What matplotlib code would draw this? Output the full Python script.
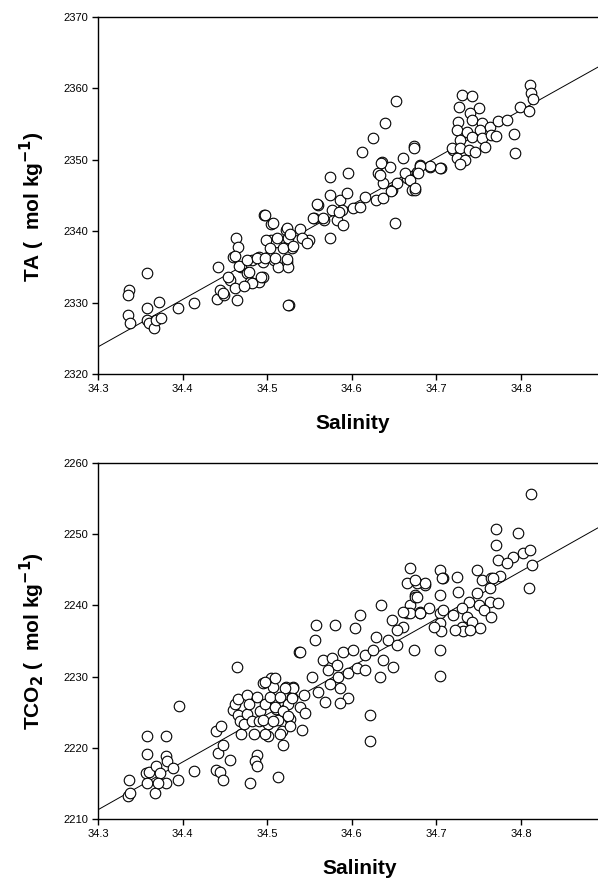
import matplotlib
matplotlib.use("Agg")
import matplotlib.pyplot as plt
import numpy as np

plt.rcParams['font.family'] = ['Liberation Sans', 'DejaVu Sans']

# ---------------- Top panel: TA vs Salinity ----------------
sal_ta = [
    34.337, 34.335, 34.335, 34.338, 34.358, 34.358, 34.358, 34.360, 34.366, 34.369, 34.375, 34.372, 34.394, 34.413,
    34.442, 34.441, 34.444, 34.449, 34.456, 34.460, 34.463, 34.465, 34.462, 34.464, 34.469, 34.476, 34.480, 34.482,
    34.490, 34.495, 34.490, 34.495, 34.496, 34.505, 34.504, 34.510, 34.508, 34.513, 34.522, 34.525, 34.523, 34.525,
    34.529, 34.526, 34.462, 34.467, 34.476, 34.478, 34.488, 34.482, 34.472, 34.454, 34.448,
    34.625, 34.612, 34.673, 34.574, 34.596, 34.636, 34.645, 34.661, 34.681, 34.631, 34.637, 34.647, 34.653, 34.665,
    34.671, 34.677, 34.574, 34.586, 34.594, 34.616, 34.629, 34.637, 34.560, 34.576, 34.588, 34.602, 34.610, 34.555,
    34.567, 34.582, 34.590, 34.651, 34.497, 34.507, 34.523, 34.539, 34.549, 34.527, 34.511, 34.499, 34.503, 34.519,
    34.531, 34.497, 34.509, 34.523, 34.493, 34.574, 34.525,
    34.541, 34.547, 34.554, 34.559, 34.566, 34.585, 34.639, 34.652, 34.633, 34.635, 34.646, 34.663, 34.669, 34.675,
    34.693, 34.705, 34.720,
    34.730, 34.742, 34.727, 34.750, 34.740, 34.726, 34.742, 34.754, 34.724, 34.736, 34.752, 34.763, 34.773, 34.783,
    34.728, 34.742, 34.754, 34.765, 34.771, 34.718, 34.728, 34.738, 34.746, 34.758, 34.724, 34.734, 34.728, 34.704,
    34.692, 34.681, 34.678, 34.675, 34.673, 34.792, 34.793, 34.799, 34.809, 34.811, 34.812, 34.814,
]
ta = [
    2331.8, 2331.1, 2328.3, 2327.2, 2334.2, 2329.3, 2327.6, 2327.1, 2326.4, 2327.6, 2327.8, 2330.1, 2329.2, 2330.0,
    2335.0, 2330.5, 2331.8, 2331.1, 2333.2, 2336.4, 2339.1, 2337.8, 2332.0, 2330.4, 2335.0, 2334.1, 2332.9, 2336.0,
    2336.4, 2335.7, 2332.9, 2333.6, 2342.3, 2341.0, 2338.8, 2338.5, 2336.0, 2335.0, 2340.2, 2339.1, 2335.7, 2335.0,
    2337.6, 2329.7, 2336.5, 2335.1, 2335.9, 2334.3, 2336.3, 2332.7, 2332.3, 2333.6, 2331.3,
    2353.0, 2351.1, 2351.9, 2347.6, 2348.1, 2349.7, 2349.0, 2350.2, 2349.3, 2348.1, 2346.7, 2345.8, 2346.7, 2347.4,
    2345.8, 2348.3, 2345.1, 2344.4, 2345.3, 2344.8, 2344.4, 2344.6, 2343.7, 2343.0, 2343.0, 2343.2, 2343.4, 2341.8,
    2341.5, 2341.5, 2340.9, 2341.1, 2342.3, 2341.2, 2340.5, 2340.3, 2338.7, 2339.6, 2339.1, 2338.7, 2337.7, 2337.7,
    2337.9, 2336.3, 2336.3, 2336.1, 2333.6, 2339.0, 2329.6,
    2339.0, 2338.4, 2341.8, 2343.8, 2341.8, 2342.7, 2355.1, 2358.2, 2347.9, 2349.5, 2345.7, 2348.1, 2347.2, 2345.8,
    2349.0, 2348.8, 2351.4,
    2359.1, 2358.9, 2357.4, 2357.3, 2356.5, 2355.3, 2355.6, 2355.1, 2354.2, 2353.9, 2354.2, 2354.6, 2355.5, 2355.6,
    2352.8, 2353.2, 2353.0, 2353.5, 2353.3, 2351.6, 2351.6, 2351.4, 2351.1, 2351.8, 2350.2, 2350.0, 2349.4, 2348.8,
    2349.1, 2349.1, 2348.2, 2346.0, 2351.7, 2353.6, 2351.0, 2357.4, 2356.9, 2360.5, 2359.4, 2358.5,
]
ta_fit = [2323.8, 66.3]  # intercept at S=34.3, slope per salinity unit

# ---------------- Bottom panel: TCO2 vs Salinity ----------------
sal_tc = [
    34.337, 34.335, 34.338, 34.358, 34.358, 34.357, 34.360, 34.358, 34.367, 34.369, 34.373, 34.380, 34.380, 34.381,
    34.380, 34.371, 34.389, 34.395, 34.396, 34.413, 34.440, 34.445, 34.442, 34.448, 34.440, 34.444, 34.448, 34.456,
    34.464, 34.460, 34.462, 34.466, 34.468, 34.466, 34.469, 34.472, 34.476, 34.476, 34.478, 34.482, 34.484, 34.488,
    34.491, 34.490, 34.495, 34.497, 34.501, 34.501, 34.505, 34.507, 34.509, 34.510, 34.513, 34.517, 34.519, 34.522,
    34.525, 34.527, 34.529, 34.531, 34.488, 34.486, 34.488, 34.480, 34.513, 34.537,
    34.635, 34.610, 34.580, 34.558, 34.557, 34.604, 34.539, 34.566, 34.576, 34.582, 34.590, 34.602, 34.616, 34.625,
    34.637, 34.649, 34.633, 34.673, 34.629, 34.643, 34.653, 34.647, 34.661, 34.553, 34.572, 34.584, 34.596, 34.606,
    34.616, 34.560, 34.574, 34.586, 34.596, 34.568, 34.586, 34.543, 34.539, 34.545, 34.541, 34.622, 34.622, 34.665,
    34.687, 34.675, 34.669, 34.681, 34.665,
    34.531, 34.521, 34.509, 34.497, 34.503, 34.515, 34.529, 34.509, 34.519, 34.495, 34.507, 34.525, 34.497, 34.515,
    34.527,
    34.669, 34.677, 34.686, 34.675, 34.681, 34.669, 34.661, 34.653, 34.704, 34.704, 34.704, 34.708, 34.704,
    34.812, 34.771, 34.797, 34.771, 34.773, 34.791, 34.802, 34.811, 34.813, 34.809, 34.707, 34.724, 34.748, 34.754,
    34.765, 34.775, 34.763, 34.748, 34.726, 34.704, 34.738, 34.750, 34.763, 34.773, 34.708, 34.720, 34.730, 34.736,
    34.756, 34.765, 34.742, 34.730, 34.704, 34.706, 34.732, 34.752, 34.675, 34.677, 34.691, 34.681, 34.722, 34.740,
    34.697, 34.783, 34.767,
]
tco2 = [
    2215.5, 2213.2, 2213.6, 2221.6, 2219.1, 2216.4, 2216.6, 2215.0, 2213.6, 2217.4, 2216.4, 2221.6, 2218.8, 2218.1,
    2215.1, 2215.0, 2217.1, 2215.5, 2225.9, 2216.8, 2222.3, 2223.1, 2219.2, 2220.4, 2216.9, 2216.6, 2215.5, 2218.3,
    2231.4, 2225.3, 2226.2, 2224.6, 2223.7, 2226.9, 2222.0, 2223.4, 2227.4, 2224.8, 2226.2, 2223.7, 2222.0, 2227.2,
    2225.1, 2223.7, 2229.1, 2226.2, 2223.4, 2221.6, 2229.8, 2228.6, 2226.7, 2225.5, 2223.9, 2222.3, 2220.4, 2228.6,
    2226.2, 2224.1, 2227.2, 2228.6, 2219.0, 2218.1, 2217.4, 2215.0, 2215.9, 2233.5,
    2240.1, 2238.7, 2237.3, 2237.3, 2235.1, 2236.8, 2233.4, 2232.3, 2232.6, 2231.6, 2233.5, 2233.7, 2233.0, 2233.7,
    2232.3, 2231.4, 2230.0, 2233.7, 2235.6, 2235.1, 2234.4, 2237.9, 2237.0, 2230.0, 2230.9, 2230.0, 2230.5, 2231.2,
    2230.9, 2227.9, 2228.9, 2228.4, 2227.0, 2226.5, 2226.3, 2227.4, 2225.8, 2224.9, 2222.5, 2224.6, 2220.9, 2243.1,
    2242.9, 2241.5, 2240.1, 2238.9, 2238.9,
    2228.4, 2228.4, 2229.8, 2229.3, 2227.2, 2227.2, 2227.0, 2225.8, 2225.1, 2223.9, 2223.7, 2224.4, 2222.0, 2222.0,
    2223.0,
    2245.2, 2243.1, 2243.1, 2241.2, 2239.1, 2238.9, 2239.1, 2236.5, 2233.8, 2230.1, 2245.0, 2243.8, 2238.9,
    2255.7, 2250.8, 2250.2, 2248.5, 2246.4, 2246.8, 2247.3, 2247.8, 2245.7, 2242.4, 2243.8, 2244.0, 2245.0, 2243.6,
    2243.8, 2244.1, 2242.4, 2241.7, 2241.9, 2241.5, 2240.5, 2240.0, 2240.5, 2240.3, 2239.4, 2238.7, 2239.6, 2238.4,
    2239.4, 2238.4, 2237.7, 2237.0, 2237.5, 2236.4, 2236.4, 2236.8, 2243.6, 2241.2, 2239.6, 2238.9, 2236.5, 2236.5,
    2237.0, 2245.9, 2243.8,
]
tc_fit = [2211.3, 67.0]

x_ticks = [34.3, 34.4, 34.5, 34.6, 34.7, 34.8]
ta_ticks = [2320, 2330, 2340, 2350, 2360, 2370]
tc_ticks = [2210, 2220, 2230, 2240, 2250, 2260]
x_lim = (34.3, 34.891)

W, H = 598, 881
fig = plt.figure(figsize=(W / 100, H / 100), dpi=100)

def make_ax(top_px, bot_px):
    left = 98 / W
    b = 1 - bot_px / H
    h = (bot_px - top_px) / H
    return fig.add_axes([left, b, 1 - left, h])

def style(ax, yticks, ylabel, xlab_pos, ylab_pos):
    ax.set_xlim(*x_lim)
    ax.set_ylim(yticks[0], yticks[-1])
    ax.set_xticks(x_ticks)
    ax.set_yticks(yticks)
    ax.set_xticklabels([f"{v:.1f}" for v in x_ticks])
    ax.set_yticklabels([str(v) for v in yticks])
    ax.spines['right'].set_visible(False)
    for s in ['left', 'bottom', 'top']:
        ax.spines[s].set_linewidth(1.0)
        ax.spines[s].set_color('black')
    ax.tick_params(direction='out', length=4, width=1.0, labelsize=8, colors='black', pad=3)
    ax.set_xlabel('Salinity', fontsize=15, fontweight='bold', va='center')
    ax.xaxis.set_label_coords(*xlab_pos)
    ax.set_ylabel(ylabel, fontsize=15, fontweight='bold', va='center')
    ax.yaxis.set_label_coords(*ylab_pos)

ax1 = make_ax(17, 374)
xs = np.array([x_lim[0], x_lim[1]])
ax1.plot(xs, ta_fit[0] + ta_fit[1] * (xs - 34.3), color='black', lw=0.7, zorder=1)
ax1.scatter(sal_ta, ta, s=58, facecolors='white', edgecolors='black', linewidths=0.8, zorder=2, clip_on=False)
style(ax1, ta_ticks, 'TA (  mol kg$^{\\mathbf{-1}}$)', (0.51, -0.14), (-0.132, 0.47))

ax2 = make_ax(463, 819)
ax2.plot(xs, tc_fit[0] + tc_fit[1] * (xs - 34.3), color='black', lw=0.7, zorder=1)
ax2.scatter(sal_tc, tco2, s=58, facecolors='white', edgecolors='black', linewidths=0.8, zorder=2, clip_on=False)
style(ax2, tc_ticks, 'TCO$_\\mathbf{2}$ (  mol kg$^{\\mathbf{-1}}$)', (0.524, -0.14), (-0.132, 0.5))

fig.savefig('out.png', dpi=100)
